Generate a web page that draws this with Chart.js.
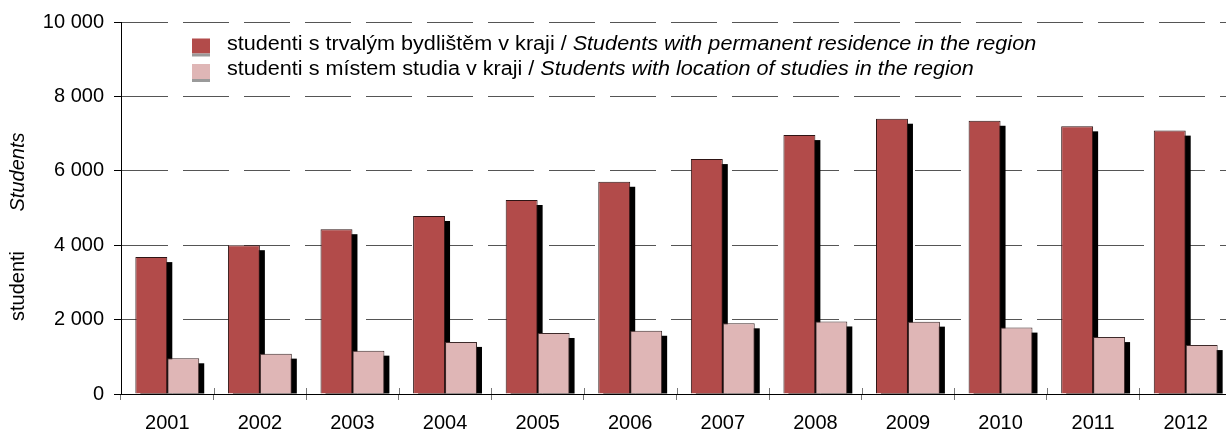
<!DOCTYPE html>
<html>
<head>
<meta charset="utf-8">
<script src="https://cdn.jsdelivr.net/npm/chart.js@4/dist/chart.umd.min.js"></script>
<style>
    html, body { margin: 0; padding: 0; background: #fff; overflow: hidden; }
    #wrap { width: 1232px; height: 432px; position: relative; }
</style>
</head>
<body>
<div id="wrap"><canvas id="students-chart"></canvas></div>
<script>
// data
const years = ["2001", "2002", "2003", "2004", "2005", "2006", "2007", "2008", "2009", "2010", "2011", "2012"]
const residenceStudents = [3680, 4000, 4430, 4785, 5215, 5705, 6315, 6960, 7400, 7345, 7195, 7080]
const studyStudents = [960, 1085, 1165, 1400, 1640, 1700, 1900, 1950, 1945, 1785, 1530, 1315]
const yTicks = [0, 2000, 4000, 6000, 8000, 10000]

const legendLabels = [
    ["studenti s trvalým bydlištěm v kraji / ", "Students with permanent residence in the region"],
    ["studenti s místem studia v kraji / ", "Students with location of studies in the region"]
]
const axisTitleCz = "studenti"
const axisTitleEn = "Students"

const RED = "#b24b4a"
const PINK = "#dfb6b6"
const FONT = "Liberation Sans, Arial, sans-serif"

function formatThousands(v) {
    return String(v).replace(/\B(?=(\d{3})+(?!\d))/g, " ")
}

// black drop shadow to the lower right of each bar
function barShadowPlugin() {
    return {
        id: "barShadow",
        beforeDatasetsDraw: (chart) => {
            const { ctx, chartArea } = chart
            ctx.save()
            ctx.beginPath()
            ctx.rect(chartArea.left, chartArea.top, chartArea.right - chartArea.left, chartArea.bottom - chartArea.top)
            ctx.clip()
            ctx.fillStyle = "#000"
            chart.data.datasets.forEach((ds, i) => {
                const meta = chart.getDatasetMeta(i)
                meta.data.forEach(el => {
                    const p = el.getProps(["x", "y", "base", "width"], true)
                    ctx.fillRect(p.x - p.width / 2 + 5, p.y + 5, p.width, p.base - p.y - 5)
                })
            })
            ctx.restore()
        },
        // category separators poke a little above the x axis too
        afterDatasetsDraw: (chart) => {
            const { ctx, chartArea } = chart
            const xs = chart.scales.x
            ctx.save()
            ctx.strokeStyle = "#777"
            ctx.lineWidth = 1
            ctx.beginPath()
            for (let i = 1; i < years.length; i++) {
                const x = Math.round((xs.getPixelForValue(i - 1) + xs.getPixelForValue(i)) / 2) + 0.5
                ctx.moveTo(x, chartArea.bottom - 6)
                ctx.lineTo(x, chartArea.bottom)
            }
            ctx.stroke()
            ctx.restore()
        }
    }
}

// legend with mixed upright / italic text and the two rotated axis titles
function legendAndTitlesPlugin() {
    return {
        id: "legendAndTitles",
        afterDraw: (chart) => {
            const { ctx } = chart
            const colors = [RED, PINK]
            const stretch = 1.08 // the source text is drawn slightly wide

            ctx.save()
            legendLabels.forEach((parts, i) => {
                const base = 49.5 + i * 25.5
                ctx.fillStyle = colors[i]
                ctx.fillRect(192, base - 11, 18, 15)
                ctx.fillStyle = "#9a9a9a"
                ctx.fillRect(192, base + 4, 18, 3)

                ctx.save()
                ctx.translate(227, base)
                ctx.scale(stretch, 1)
                ctx.fillStyle = "#000"
                ctx.textBaseline = "alphabetic"
                ctx.font = `20px ${FONT}`
                ctx.fillText(parts[0], 0, 0)
                const w = ctx.measureText(parts[0]).width
                ctx.font = `italic 20px ${FONT}`
                ctx.fillText(parts[1], w, 0)
                ctx.restore()
            })

            ctx.fillStyle = "#000"
            ctx.textAlign = "center"
            ctx.textBaseline = "middle"
            ctx.translate(18, 0)
            ctx.rotate(-Math.PI / 2)
            ctx.font = `italic 20px ${FONT}`
            ctx.fillText(axisTitleEn, -172, 0)
            ctx.font = `20px ${FONT}`
            ctx.fillText(axisTitleCz, -286, 0)
            ctx.restore()
        }
    }
}

const canvas = document.getElementById("students-chart")

new Chart(canvas.getContext("2d"), {
    type: "bar",
    data: {
        labels: years,
        datasets: [
            {
                label: legendLabels[0].join(""),
                data: residenceStudents,
                backgroundColor: RED,
                borderColor: "#2e1414",
                borderWidth: 1,
                categoryPercentage: 0.69,
                barPercentage: 1
            },
            {
                label: legendLabels[1].join(""),
                data: studyStudents,
                backgroundColor: PINK,
                borderColor: "#3e2a2a",
                borderWidth: 1,
                categoryPercentage: 0.69,
                barPercentage: 1
            }
        ]
    },
    options: {
        responsive: true,
        maintainAspectRatio: false,
        animation: false,
        layout: { padding: { left: 0, top: 22, right: 0, bottom: 0 } },
        plugins: {
            legend: { display: false },
            tooltip: { enabled: false }
        },
        scales: {
            x: {
                offset: true,
                grid: {
                    offset: true,
                    drawOnChartArea: false,
                    drawTicks: true,
                    tickLength: 6,
                    tickColor: "#777"
                },
                border: { color: "#000", width: 1 },
                ticks: {
                    color: "#000",
                    padding: 11,
                    font: { family: FONT, size: 20 },
                    maxRotation: 0
                },
                afterFit: (scale) => { scale.height = 38 }
            },
            y: {
                min: 0,
                max: 10000,
                afterBuildTicks: (scale) => { scale.ticks = yTicks.map(v => ({ value: v })) },
                grid: {
                    color: (c) => (c.tick && c.tick.value === 0) ? "rgba(0,0,0,0)" : "#555",
                    lineWidth: 1,
                    drawTicks: true,
                    tickLength: 7,
                    tickColor: "#000",
                    tickBorderDash: []
                },
                border: { color: "#000", width: 1, dash: [46, 15] },
                ticks: {
                    color: "#000",
                    padding: 10,
                    font: { family: FONT, size: 20 },
                    callback: (v) => formatThousands(v)
                },
                afterFit: (scale) => { scale.width = 121 }
            }
        }
    },
    plugins: [barShadowPlugin(), legendAndTitlesPlugin()]
})
</script>
</body>
</html>
